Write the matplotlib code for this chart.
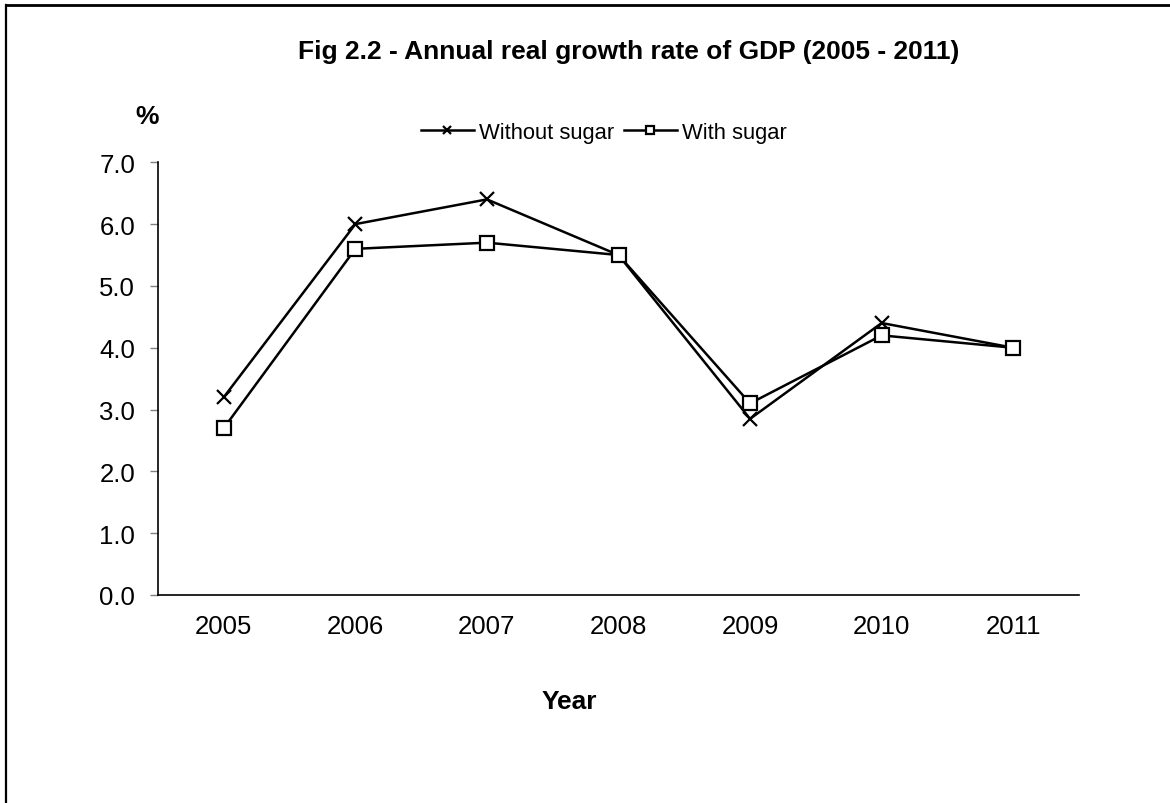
import matplotlib
matplotlib.use("Agg")
import matplotlib.pyplot as plt
from matplotlib.lines import Line2D

plt.rcParams['font.family'] = ['Liberation Sans', 'DejaVu Sans']

years = ["2005", "2006", "2007", "2008", "2009", "2010", "2011"]
without_sugar = [3.2, 6.0, 6.4, 5.5, 2.85, 4.4, 4.0]
with_sugar = [2.7, 5.6, 5.7, 5.5, 3.1, 4.2, 4.0]
yticks = [0.0, 1.0, 2.0, 3.0, 4.0, 5.0, 6.0, 7.0]

W, H = 1170, 804
fig = plt.figure(figsize=(W / 100, H / 100), dpi=100)
ax = fig.add_axes([158 / W, 1 - 596 / H, (1079 - 158) / W, (596 - 163.3) / H])

x = list(range(len(years)))
ax.plot(x, without_sugar, color='black', lw=1.8, marker='x', ms=9.5, mew=1.6,
        label='Without sugar', zorder=3)
ax.plot(x, with_sugar, color='black', lw=1.8, marker='s', ms=10, mew=1.6,
        mfc='white', mec='black', label='With sugar', zorder=4)

ax.set_xlim(-0.5, 6.5)
ax.set_ylim(0, 7)
ax.set_yticks(yticks)
ax.set_yticklabels([f"{v:.1f}" for v in yticks])
ax.set_xticks(x)
ax.set_xticklabels(years)
ax.tick_params(axis='y', length=6, width=1, color='#808080', pad=10.5, labelsize=18.5)
ax.tick_params(axis='x', length=0, pad=14, labelsize=18.5)
for s in ['top', 'right']:
    ax.spines[s].set_visible(False)
for s in ['left', 'bottom']:
    ax.spines[s].set_linewidth(1.2)

leg = ax.legend(loc='center', bbox_to_anchor=(604 / W, 1 - 133 / H),
                bbox_transform=fig.transFigure, ncol=2, frameon=False,
                fontsize=15.8, handlelength=2.4, handletextpad=0.25,
                columnspacing=0.45, markerscale=0.6, borderpad=0)

fig.text(629 / W, 1 - 52 / H, "Fig 2.2 - Annual real growth rate of GDP (2005 - 2011)",
         ha='center', va='center', fontsize=19, fontweight='bold')
fig.text(147 / W, 1 - 117 / H, "%", ha='center', va='center', fontsize=19,
         fontweight='bold')
fig.text(569 / W, 1 - 702 / H, "Year", ha='center', va='center', fontsize=19,
         fontweight='bold')

# outer frame (top and left edges visible)
fig.add_artist(Line2D([6 / W, 1], [1 - 5.5 / H, 1 - 5.5 / H], transform=fig.transFigure,
                      color='black', lw=2))
fig.add_artist(Line2D([6 / W, 6 / W], [0, 1 - 5.5 / H], transform=fig.transFigure,
                      color='black', lw=1.6))

fig.savefig("out.png", dpi=100)
